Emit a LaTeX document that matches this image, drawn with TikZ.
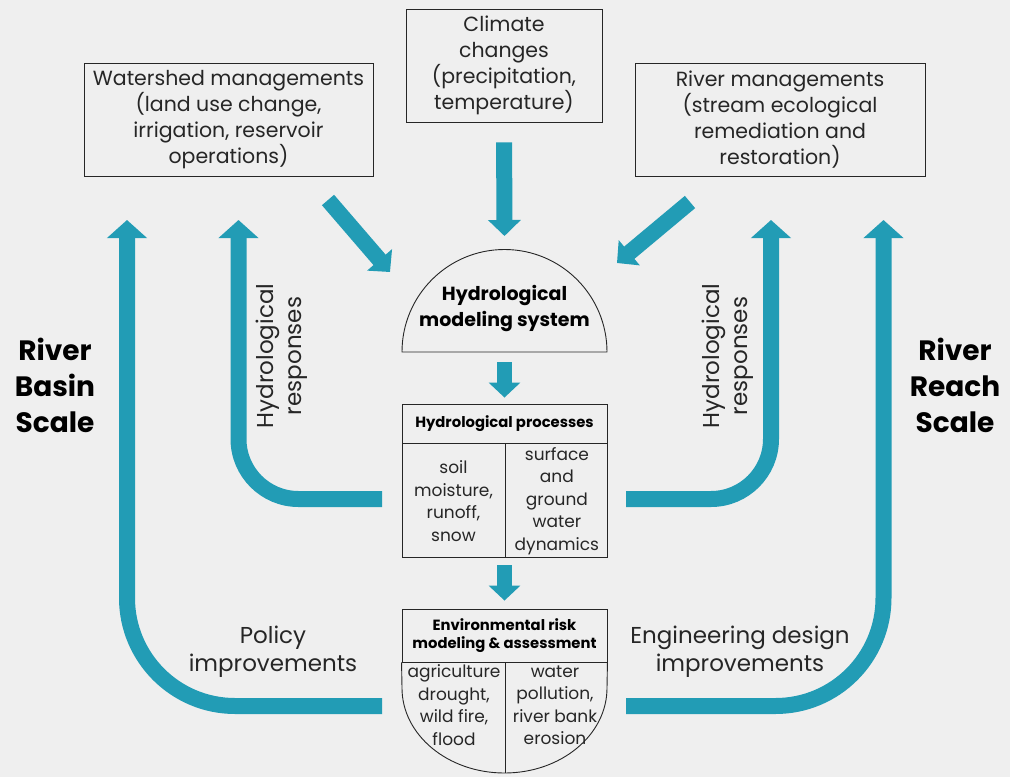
\documentclass[tikz,border=0pt]{standalone}
\usepackage{fontspec}
\setmainfont{Poppins}
\usetikzlibrary{arrows.meta}
\definecolor{bgcol}{HTML}{EFEFEF}
\definecolor{riverteal}{HTML}{229CB5}
\definecolor{inktext}{HTML}{262626}

\tikzset{
  box/.style={draw=black!85, line width=0.9pt, align=center, inner sep=0pt, text=inktext},
  txt/.style={align=center, inner sep=0pt, text=inktext},
  topfont/.style={font=\fontsize{20.5}{25.8}\selectfont},
  cellfont/.style={font=\fontsize{17}{22.5}\selectfont},
  headfont/.style={font=\bfseries\fontsize{14.8}{18.5}\selectfont},
  sidefont/.style={font=\fontsize{23}{28}\selectfont},
  scalefont/.style={font=\bfseries\fontsize{28}{36}\selectfont},
  fatarrow/.style={draw=riverteal, line width=16pt, -{Triangle[width=32pt,length=16pt]}},
  thinarrow/.style={draw=riverteal, line width=15pt, -{Triangle[width=31pt,length=15pt]}},
  looparrow/.style={draw=riverteal, line width=16pt, -{Triangle[width=39pt,length=18pt]}}
}

\begin{document}
\begin{tikzpicture}[x=1pt, y=-1pt]
  \fill[bgcol] (0,0) rectangle (1010,777);

  % drivers
  \node[box, topfont, minimum width=289pt, minimum height=113pt] (wsm) at (228.5,119.5)
    {Watershed managements\\(land use change,\\irrigation, reservoir\\operations)};
  \node[box, topfont, minimum width=196pt, minimum height=113pt] (clim) at (504,65.5)
    {Climate\\changes\\(precipitation,\\temperature)};
  \node[box, topfont, minimum width=290pt, minimum height=113pt] (rvm) at (780,119.5)
    {River managements\\(stream ecological\\remediation and\\restoration)};

  % modeling system
  \draw[black!85, line width=0.9pt] (402,352) arc[start angle=180, end angle=360, radius=102.5] -- cycle;
  \coordinate (hmstop) at (504.5,249.5);
  \coordinate (hmsbase) at (504.5,352);
  \node[txt, font=\bfseries\fontsize{19}{26}\selectfont, text=black] (hms) at (504.5,308)
    {Hydrological\\modeling system};

  % processes
  \node[box, headfont, text=black, minimum width=205pt, minimum height=39pt] (hp) at (504.5,423.5)
    {Hydrological processes};
  \node[box, cellfont, anchor=north west, text width=103pt, minimum height=114pt] (hpl) at (hp.south west)
    {soil\\moisture,\\runoff,\\snow};
  \node[box, cellfont, anchor=north west, text width=102pt, minimum height=114pt] (hpr) at (hpl.north east)
    {surface\\and\\ground\\water\\dynamics};
  \coordinate (hpbase) at (504.5,557);

  % risk assessment
  \node[box, headfont, text=black, minimum width=205pt, minimum height=53pt] (er) at (504.5,635.5)
    {Environmental risk\\modeling \& assessment};
  \draw[black!85, line width=0.9pt] (er.south west) -- (402,688)
    arc[start angle=180, end angle=0, x radius=102.5, y radius=85] -- (er.south east);
  \draw[black!85, line width=0.9pt] (505,662) -- (505,773);
  \node[txt, cellfont] (erl) at (454,705) {agriculture\\drought,\\wild fire,\\flood};
  \node[txt, cellfont] (err) at (555,705) {water\\pollution,\\river bank\\erosion};

  % arrows into the model
  \coordinate (wsmout) at (328,200);
  \coordinate (hmsleft) at (390,272);
  \coordinate (rvmout) at (690,202);
  \coordinate (hmsright) at (617,263);
  \draw[fatarrow, shorten <=20pt] (clim.south) -- (hmstop |- 0,236);
  \draw[fatarrow] (wsmout) -- (hmsleft);
  \draw[fatarrow] (rvmout) -- (hmsright);
  \draw[thinarrow, shorten <=10pt, shorten >=6pt] (hmsbase) -- (hp.north);
  \draw[thinarrow, shorten <=8pt, shorten >=8pt] (hpbase) -- (er.north);

  % feedback loops
  \coordinate (hpout1) at (382,499);
  \coordinate (hpout2) at (626,499);
  \coordinate (erout1) at (382,706);
  \coordinate (erout2) at (626,706);
  \draw[looparrow, rounded corners=60pt] (hpout1) -- (238.5,499) -- (238.5,220);
  \draw[looparrow, rounded corners=108pt] (erout1) -- (127,706) -- (127,220);
  \draw[looparrow, rounded corners=60pt] (hpout2) -- (771,499) -- (771,220);
  \draw[looparrow, rounded corners=108pt] (erout2) -- (883.5,706) -- (883.5,220);

  % labels
  \node[txt, sidefont, rotate=90] (hrl) at (282,356) {Hydrological\\responses};
  \node[txt, sidefont, rotate=90] (hrr) at (728,356) {Hydrological\\responses};
  \node[txt, sidefont] (pol) at (273,652) {Policy\\improvements};
  \node[txt, sidefont] (eng) at (740,652) {Engineering design\\improvements};
  \node[txt, scalefont, text=black] (rbs) at (55,385) {River\\Basin\\Scale};
  \node[txt, scalefont, text=black] (rrs) at (955,385) {River\\Reach\\Scale};
\end{tikzpicture}
\end{document}
